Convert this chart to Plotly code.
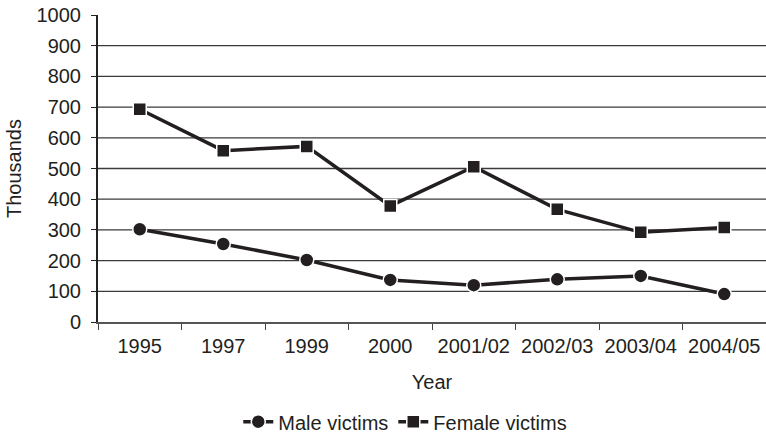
import plotly.graph_objects as go

years = ["1995", "1997", "1999", "2000", "2001/02", "2002/03", "2003/04", "2004/05"]
male = [302, 254, 202, 137, 120, 139, 150, 91]
female = [693, 558, 572, 378, 506, 367, 292, 308]
grid_vals = [100, 200, 300, 400, 500, 600, 700, 800, 900]
y_ticks = [0, 100, 200, 300, 400, 500, 600, 700, 800, 900, 1000]

INK = "#231f20"
FONT = "Liberation Sans, Arial, sans-serif"
FS = 20

fig = go.Figure()
fig.add_trace(go.Scatter(
    x=years, y=male, name="Male victims", mode="lines+markers",
    line=dict(color=INK, width=3.5),
    marker=dict(symbol="circle", size=14, color=INK, line=dict(color="white", width=1.5)),
))
fig.add_trace(go.Scatter(
    x=years, y=female, name="Female victims", mode="lines+markers",
    line=dict(color=INK, width=3.5),
    marker=dict(symbol="square", size=13, color=INK, line=dict(color="white", width=1.5)),
))

for v in grid_vals:
    fig.add_shape(type="line", xref="paper", yref="y", x0=0, x1=1, y0=v, y1=v,
                  line=dict(color="#3a3a3a", width=1.3), layer="below")

fig.update_layout(
    width=766, height=437,
    margin=dict(l=98, r=0, t=15, b=115, autoexpand=False),
    paper_bgcolor="white", plot_bgcolor="white",
    font=dict(family=FONT, size=FS, color=INK),
    showlegend=True,
    legend=dict(orientation="h", x=0.46, xanchor="center",
                yref="container", y=0.035, yanchor="middle",
                font=dict(size=FS), itemwidth=30, tracegroupgap=0),
    xaxis=dict(
        type="category", showgrid=False, showline=True, linecolor="#555", linewidth=2,
        ticks="outside", tickson="boundaries", ticklen=6, tickwidth=1.2, tickcolor="#444",
        ticklabelstandoff=5,
        range=[-0.5, 7.5],
        title=dict(text="Year", font=dict(size=FS), standoff=19),
        tickfont=dict(size=FS),
    ),
    yaxis=dict(
        range=[0, 1000], tickvals=y_ticks, showgrid=False, zeroline=False,
        showline=True, linecolor="#222", linewidth=2,
        ticks="outside", ticklen=5, tickwidth=1.2, tickcolor="#222",
        ticklabelstandoff=6,
        title=dict(text="Thousands", font=dict(size=FS), standoff=10),
        tickfont=dict(size=FS),
    ),
)

fig.write_html("out.html")
